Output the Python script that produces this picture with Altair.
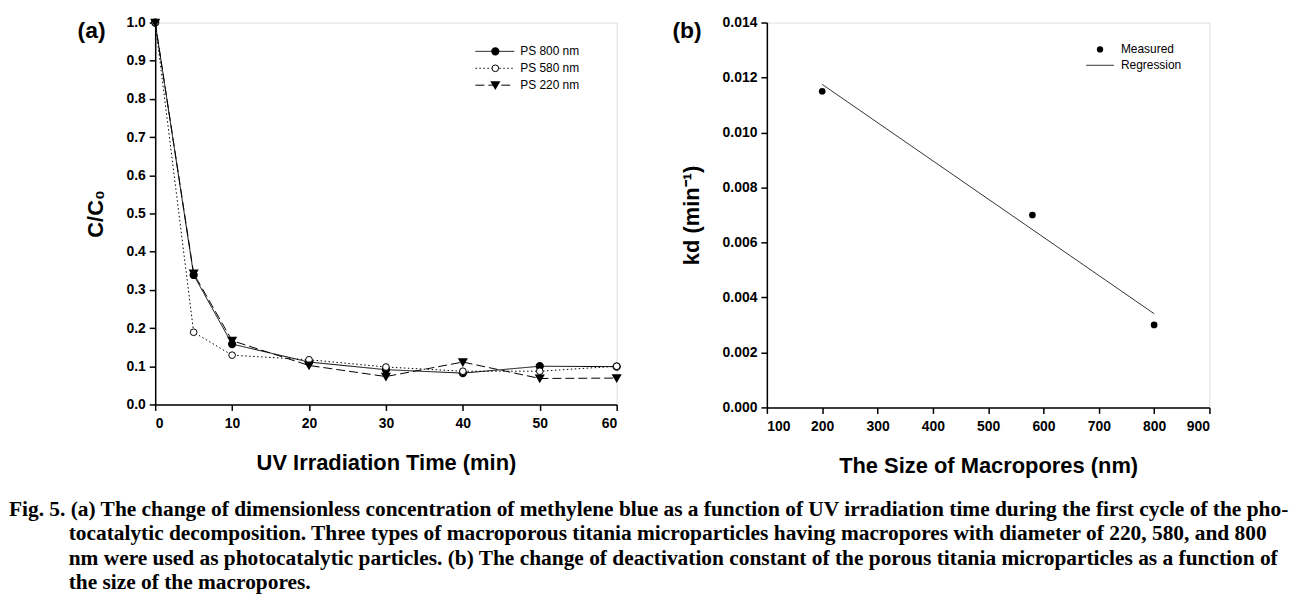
import altair as alt
import pandas as pd

# ---------------- data ----------------
time_min = [0, 5, 10, 20, 30, 40, 50, 60]
ps800 = [1.0, 0.339, 0.158, 0.111, 0.091, 0.082, 0.100, 0.099]
ps580 = [1.0, 0.189, 0.129, 0.117, 0.098, 0.087, 0.087, 0.100]
ps220 = [1.0, 0.343, 0.167, 0.102, 0.073, 0.111, 0.068, 0.069]
series_names = ["PS 800 nm", "PS 580 nm", "PS 220 nm"]
series_values = [ps800, ps580, ps220]

pore_size = [200, 580, 800]
kd_measured = [0.0115, 0.0070, 0.0030]
reg_x = [200, 800]
reg_y = [0.01175, 0.00341]

x_ticks_a = [0, 10, 20, 30, 40, 50, 60]
y_ticks_a = [0.0, 0.1, 0.2, 0.3, 0.4, 0.5, 0.6, 0.7, 0.8, 0.9, 1.0]
x_ticks_b = [100, 200, 300, 400, 500, 600, 700, 800, 900]
y_ticks_b = [0.000, 0.002, 0.004, 0.006, 0.008, 0.010, 0.012, 0.014]

caption_lines = [
    "Fig. 5. (a) The change of dimensionless concentration of methylene blue as a function of UV irradiation time during the first cycle of the pho-",
    "tocatalytic decomposition. Three types of macroporous titania microparticles having macropores with diameter of 220, 580, and 800",
    "nm were used as photocatalytic particles. (b) The change of deactivation constant of the porous titania microparticles as a function of",
    "the size of the macropores.",
]

# ---------------- styles ----------------
SANS = "Liberation Sans"
SERIF = "Liberation Serif"
dashes = [[1, 0], [1.5, 2.5], [9, 4]]
WA, HA = 464, 384
WB, HB = 445, 387

def axis_common(**kw):
    base = dict(domainColor="black", domainWidth=1.5, tickColor="black", tickWidth=1.5,
                tickSize=6, labelFont=SANS, labelFontWeight="bold", labelFontSize=14,
                labelColor="black", titleFont=SANS, titleFontWeight="bold", titleFontSize=22,
                titleColor="black", grid=False)
    base.update(kw)
    return alt.Axis(**base)

# ---------------- panel (a) ----------------
rows = []
for name, vals in zip(series_names, series_values):
    for t, v in zip(time_min, vals):
        rows.append({"series": name, "t": t, "c": v})
dfa = pd.DataFrame(rows)

xa = alt.X("t:Q", scale=alt.Scale(domain=[0, 60], nice=False),
           axis=axis_common(values=x_ticks_a, title="UV Irradiation Time (min)",
                            labelPadding=6, titlePadding=22))
ya = alt.Y("c:Q", scale=alt.Scale(domain=[0, 1.0], nice=False),
           axis=axis_common(values=y_ticks_a, format=".1f", title="C/C₀",
                            labelPadding=4, titlePadding=19))

layers_a = []
point_specs = [
    dict(shape="circle", filled=True, fill="black", stroke="black", size=40),
    dict(shape="circle", filled=True, fill="white", stroke="black", strokeWidth=1, size=45),
    dict(shape="triangle-down", filled=True, fill="black", stroke="black", size=45),
]
for i, name in enumerate(series_names):
    d = dfa[dfa.series == name]
    layers_a.append(alt.Chart(d).mark_line(color="black", strokeWidth=1, strokeDash=dashes[i]).encode(x=xa, y=ya))
for i, name in enumerate(series_names):
    d = dfa[dfa.series == name]
    layers_a.append(alt.Chart(d).mark_point(opacity=1, **point_specs[i]).encode(x=xa, y=ya))

# legend (a)
leg_y = [29, 46, 63]
for i, name in enumerate(series_names):
    ld = pd.DataFrame({"label": [name]})
    b = alt.Chart(ld)
    layers_a.append(b.mark_rule(color="black", strokeWidth=1, strokeDash=dashes[i]).encode(
        x=alt.value(322), x2=alt.value(361), y=alt.value(leg_y[i])))
    layers_a.append(b.mark_point(opacity=1, **point_specs[i]).encode(
        x=alt.value(342), y=alt.value(leg_y[i])))
    layers_a.append(b.mark_text(align="left", baseline="middle", font=SANS, fontSize=12,
                                color="black").encode(
        x=alt.value(367), y=alt.value(leg_y[i]), text="label:N"))

lab_a = pd.DataFrame({"label": ["(a)"]})
layers_a.append(alt.Chart(lab_a).mark_text(align="left", baseline="middle", font=SANS,
                                           fontSize=23, fontWeight="bold", color="black").encode(
    x=alt.value(-78), y=alt.value(9), text="label:N"))

panel_a = alt.layer(*layers_a).properties(width=WA, height=HA)

# ---------------- panel (b) ----------------
dfb = pd.DataFrame({"size": pore_size, "kd": kd_measured})
dfr = pd.DataFrame({"size": reg_x, "kd": reg_y})

xb = alt.X("size:Q", scale=alt.Scale(domain=[100, 900], nice=False),
           axis=axis_common(values=x_ticks_b, title="The Size of Macropores (nm)",
                            labelPadding=6, titlePadding=22))
yb = alt.Y("kd:Q", scale=alt.Scale(domain=[0, 0.014], nice=False),
           axis=axis_common(values=y_ticks_b, format=".3f", title="kd (min⁻¹)",
                            labelPadding=4, titlePadding=19))

layers_b = [
    alt.Chart(dfr).mark_line(color="black", strokeWidth=0.8).encode(x=xb, y=yb),
    alt.Chart(dfb).mark_point(shape="circle", filled=True, color="black", size=45, opacity=1).encode(x=xb, y=yb),
]
legb = pd.DataFrame({"label": ["Measured"]})
legb2 = pd.DataFrame({"label": ["Regression"]})
layers_b.append(alt.Chart(legb).mark_point(shape="circle", filled=True, color="black", size=40, opacity=1).encode(
    x=alt.value(335), y=alt.value(27)))
layers_b.append(alt.Chart(legb).mark_text(align="left", baseline="middle", font=SANS, fontSize=12, color="black").encode(
    x=alt.value(356), y=alt.value(27), text="label:N"))
layers_b.append(alt.Chart(legb2).mark_rule(color="black", strokeWidth=0.8).encode(
    x=alt.value(321), x2=alt.value(349), y=alt.value(43)))
layers_b.append(alt.Chart(legb2).mark_text(align="left", baseline="middle", font=SANS, fontSize=12, color="black").encode(
    x=alt.value(356), y=alt.value(43), text="label:N"))
lab_b = pd.DataFrame({"label": ["(b)"]})
layers_b.append(alt.Chart(lab_b).mark_text(align="left", baseline="middle", font=SANS,
                                           fontSize=23, fontWeight="bold", color="black").encode(
    x=alt.value(-95), y=alt.value(9), text="label:N"))

panel_b = alt.layer(*layers_b).properties(width=WB, height=HB)

# ---------------- caption ----------------
cap_layers = []
for i, line in enumerate(caption_lines):
    cd = pd.DataFrame({"line": [line]})
    cap_layers.append(alt.Chart(cd).mark_text(align="left", baseline="alphabetic", font=SERIF,
                                              fontSize=21.5, fontWeight="bold", color="black").encode(
        x=alt.value(-147 if i == 0 else -87), y=alt.value(16 + 24.5 * i), text="line:N"))
caption = alt.layer(*cap_layers).properties(
    width=900, height=90, view=alt.ViewBackground(stroke="transparent"))

top = alt.hconcat(panel_a, panel_b, spacing=47)
chart = alt.vconcat(top, caption, spacing=21).properties(
    padding={"left": 0, "top": 5, "right": 0, "bottom": 0}
).configure_view(stroke="black", strokeWidth=1.5).configure(background="white")

chart.save("out.html", embed_options={"renderer": "svg", "actions": False})
